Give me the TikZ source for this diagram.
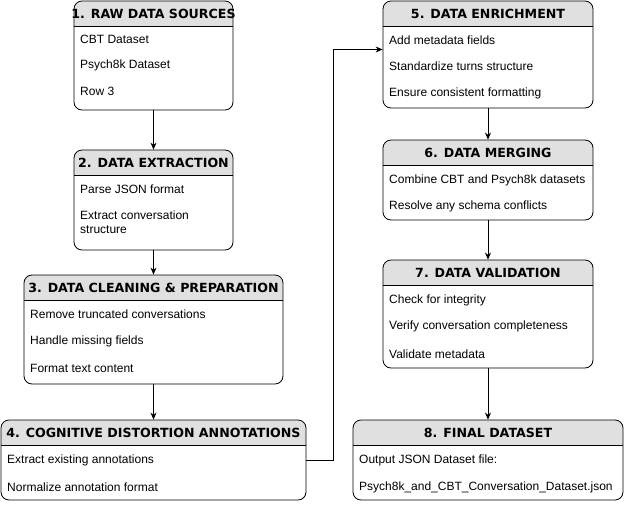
\documentclass[tikz,border=0pt]{standalone}
\usepackage{fontspec}
\setmainfont{Liberation Sans}
\newfontfamily\headfont{DejaVu Sans}
\usetikzlibrary{arrows.meta}
\definecolor{headgray}{HTML}{E0E0E0}
\tikzset{
  stepbox/.style={draw, rounded corners=8pt, line width=0.8pt, inner sep=0pt},
  headtext/.style={font=\headfont\bfseries\fontsize{12.6}{14}\selectfont, inner sep=0pt},
  itemtext/.style={font=\fontsize{12}{14}\selectfont, anchor=west, align=left, inner sep=0pt},
  flow/.style={line width=0.8pt, -{Stealth[length=7pt,width=6pt]}}
}
\begin{document}
\begin{tikzpicture}[x=1pt, y=-1pt]
\useasboundingbox (0,0) rectangle (624,504);

% boxes with grey header
\foreach \n/\x/\y/\w/\h/\t in {1/74/1/159/109/{1. RAW DATA SOURCES},
    2/74/150/159/100/{2. DATA EXTRACTION},
    3/24/275/259/109/{3. DATA CLEANING \& PREPARATION},
    4/1/420/305/80/{4. COGNITIVE DISTORTION ANNOTATIONS},
    5/383/1/210/107/{5. DATA ENRICHMENT},
    6/383/140/210/80/{6. DATA MERGING},
    7/383/260/210/108/{7. DATA VALIDATION},
    8/353/420/270/80/{8. FINAL DATASET}}
{
  \begin{scope}
    \clip[rounded corners=8pt] (\x,\y) rectangle ++(\w,\h);
    \fill[headgray] (\x,\y) rectangle ++(\w,25);
  \end{scope}
  \draw[line width=0.8pt] (\x,\y+25) -- ++(\w,0);
  \node[stepbox, minimum width=\w pt, minimum height=\h pt] (s\n) at ({\x+\w/2},{\y+\h/2}) {};
  \node[headtext] (h\n) at ({\x+\w/2},{\y+13}) {\t};
}

% rows
\foreach \x/\y/\t [count=\i] in {80/39/CBT Dataset, 80/65/Psych8k Dataset, 80/91/Row 3,
    80/189/Parse JSON format, 80/222/{Extract conversation\\structure},
    30/314/Remove truncated conversations, 30/341/Handle missing fields, 30/368/Format text content,
    7/460/Extract existing annotations, 7/487/Normalize annotation format,
    389/40/Add metadata fields, 389/66/Standardize turns structure, 389/93/Ensure consistent formatting,
    389/180/Combine CBT and Psych8k datasets, 389/206/Resolve any schema conflicts,
    389/300/Check for integrity, 389/326/Verify conversation completeness, 389/354/Validate metadata,
    359/460/Output JSON Dataset file:, 359/487/Psych8k\_and\_CBT\_Conversation\_Dataset.json}
  \node[itemtext] (it\i) at (\x,\y) {\t};

% connectors
\draw[flow] (s1) -- (s2);
\draw[flow] (s2) -- (s3);
\draw[flow] (s3) -- (s4);
\draw[flow] (s4.east) -- ++(27,0) |- ([yshift=5pt]s5.west);
\draw[flow] (s5) -- (s6);
\draw[flow] (s6) -- (s7);
\draw[flow] (s7) -- (s8);

\end{tikzpicture}
\end{document}
